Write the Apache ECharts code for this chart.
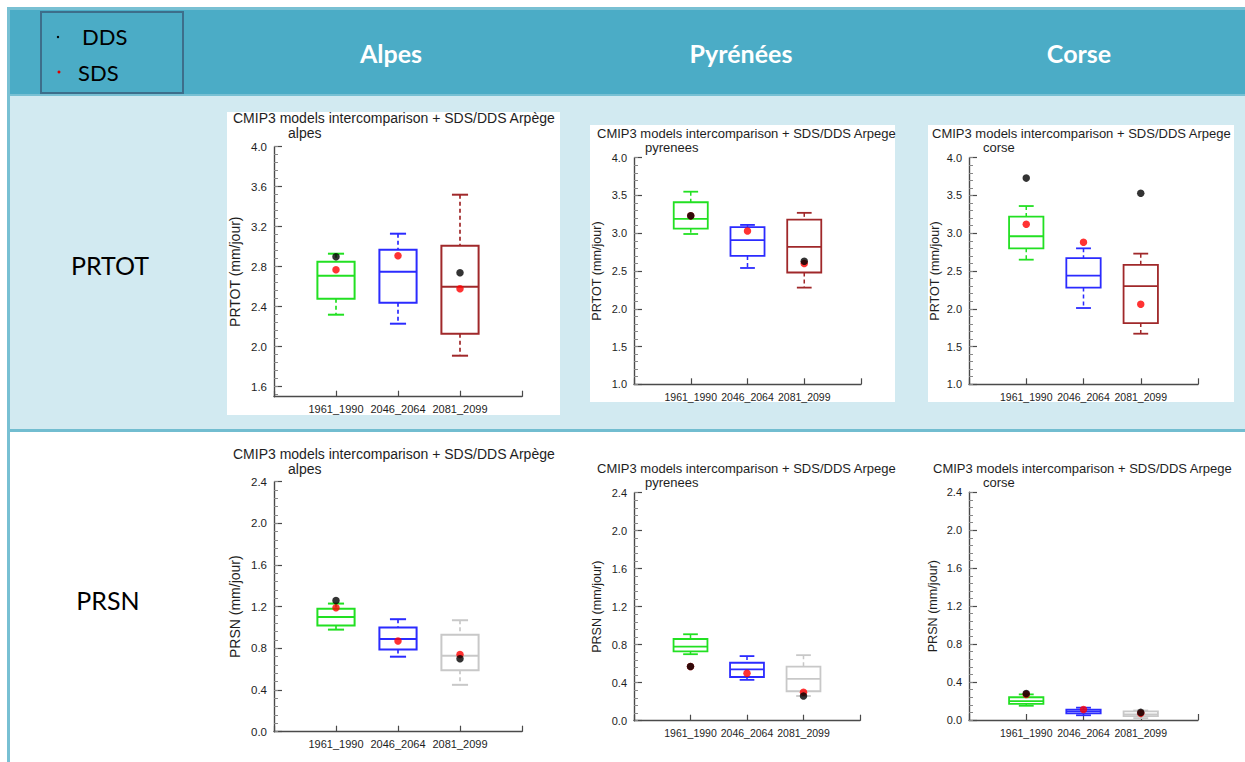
<!DOCTYPE html>
<html><head><meta charset="utf-8">
<script src="https://cdn.jsdelivr.net/npm/echarts@6/dist/echarts.min.js"></script>
<style>html,body{margin:0;padding:0;background:#fff;}#c{width:1245px;height:762px;}</style>
</head><body><div id="c"></div>
<script>
// ---------- data ----------
const periods = ['1961_1990', '2046_2064', '2081_2099'];
const regionHeaders = ['Alpes', 'Pyrénées', 'Corse'];
const regionTags = ['alpes', 'pyrenees', 'corse'];
const variables = ['PRTOT', 'PRSN'];
const legendNames = ['DDS', 'SDS'];
const plotTitles = ['CMIP3 models intercomparison + SDS/DDS Arpège',
                    'CMIP3 models intercomparison + SDS/DDS Arpege',
                    'CMIP3 models intercomparison + SDS/DDS Arpege'];
const unitLabel = ' (mm/jour)';

// box stats per period: [min, q1, median, q3, max]
const prtotAlpesBox = [[2.32, 2.48, 2.71, 2.85, 2.93], [2.23, 2.44, 2.75, 2.97, 3.13], [1.91, 2.13, 2.60, 3.01, 3.52]];
const prtotAlpesDDS = [2.90, null, 2.74];
const prtotAlpesSDS = [2.77, 2.91, 2.58];
const prtotPyrBox = [[2.99, 3.06, 3.19, 3.41, 3.55], [2.54, 2.70, 2.91, 3.08, 3.11], [2.28, 2.48, 2.82, 3.18, 3.27]];
const prtotPyrDDS = [3.23, null, 2.63];
const prtotPyrSDS = [3.23, 3.03, 2.60];
const prtotCorBox = [[2.65, 2.80, 2.96, 3.22, 3.36], [2.01, 2.28, 2.44, 2.67, 2.80], [1.67, 1.81, 2.30, 2.58, 2.73]];
const prtotCorDDS = [3.73, null, 3.53];
const prtotCorSDS = [3.12, 2.88, 2.06];

const prsnAlpesBox = [[0.98, 1.02, 1.10, 1.18, 1.23], [0.72, 0.79, 0.89, 1.00, 1.08], [0.45, 0.59, 0.73, 0.93, 1.07]];
const prsnAlpesDDS = [1.26, null, 0.70];
const prsnAlpesSDS = [1.19, 0.87, 0.74];
const prsnPyrBox = [[0.70, 0.73, 0.78, 0.86, 0.91], [0.43, 0.46, 0.54, 0.61, 0.68], [0.26, 0.31, 0.44, 0.57, 0.69]];
const prsnPyrDDS = [0.57, null, 0.26];
const prsnPyrSDS = [0.57, 0.50, 0.30];
const prsnCorBox = [[0.15, 0.17, 0.20, 0.24, 0.27], [0.05, 0.07, 0.09, 0.11, 0.13], [0.02, 0.04, 0.06, 0.09, 0.10]];
const prsnCorDDS = [0.28, null, 0.08];
const prsnCorSDS = [0.27, 0.11, 0.07];

// tick labels
const prtotAlpesTicks = [1.6, 2.0, 2.4, 2.8, 3.2, 3.6, 4.0];
const prtotTicks = [1.0, 1.5, 2.0, 2.5, 3.0, 3.5, 4.0];
const prsnTicks = [0.0, 0.4, 0.8, 1.2, 1.6, 2.0, 2.4];

// ---------- styling ----------
const prtotColors = ['#22E022', '#2B2BFF', '#A0282A'];
const prsnColors = ['#22E022', '#2B2BFF', '#C8C8C8'];
const FONT = '"Liberation Sans", Arial, sans-serif';
const HFONT = 'Lato, "Open Sans", sans-serif';

const panels = [
  {box: prtotAlpesBox, dds: prtotAlpesDDS, sds: prtotAlpesSDS, ticks: prtotAlpesTicks, min: 1.5, max: 4.0, minor: 0.08,
   colors: prtotColors, v: 0, r: 0, grid: {left: 274, top: 146.7, width: 248, height: 250},
   tx: 233, ty: 118, tsize: 14, sx: 288, sy: 133, nameGap: 32, nameSize: 14, tickSize: 11, lw: 2},
  {box: prtotPyrBox, dds: prtotPyrDDS, sds: prtotPyrSDS, ticks: prtotTicks, min: 1.0, max: 4.0, minor: 0.1,
   colors: prtotColors, v: 0, r: 1, grid: {left: 634, top: 157.7, width: 227, height: 226.6},
   tx: 597, ty: 133, tsize: 13, sx: 645, sy: 147, nameGap: 31, nameSize: 12.6, tickSize: 10.5, lw: 1.8},
  {box: prtotCorBox, dds: prtotCorDDS, sds: prtotCorSDS, ticks: prtotTicks, min: 1.0, max: 4.0, minor: 0.1,
   colors: prtotColors, v: 0, r: 2, grid: {left: 969, top: 157.7, width: 229, height: 226.6},
   tx: 932, ty: 133, tsize: 13, sx: 983, sy: 147, nameGap: 28, nameSize: 12.6, tickSize: 10.5, lw: 1.8},
  {box: prsnAlpesBox, dds: prsnAlpesDDS, sds: prsnAlpesSDS, ticks: prsnTicks, min: 0, max: 2.4, minor: 0.08,
   colors: prsnColors, v: 1, r: 0, grid: {left: 274, top: 481.7, width: 248, height: 250},
   tx: 233, ty: 454, tsize: 14, sx: 288, sy: 469, nameGap: 32, nameSize: 14, tickSize: 11, lw: 2},
  {box: prsnPyrBox, dds: prsnPyrDDS, sds: prsnPyrSDS, ticks: prsnTicks, min: 0, max: 2.4, minor: 0.08,
   colors: prsnColors, v: 1, r: 1, grid: {left: 634, top: 492.7, width: 226, height: 228},
   tx: 597, ty: 468, tsize: 13, sx: 645, sy: 482, nameGap: 31, nameSize: 12.6, tickSize: 10.5, lw: 1.8},
  {box: prsnCorBox, dds: prsnCorDDS, sds: prsnCorSDS, ticks: prsnTicks, min: 0, max: 2.4, minor: 0.08,
   colors: prsnColors, v: 1, r: 2, grid: {left: 969, top: 492.3, width: 229, height: 227.7},
   tx: 933, ty: 468, tsize: 13, sx: 983, sy: 482, nameGap: 30, nameSize: 12.6, tickSize: 10.5, lw: 1.8}
];

function minorTicks(min, max, step) {
  const out = [];
  const start = Math.ceil(min / step - 1e-6);
  for (let k = start; k * step <= max + 1e-9; k++) out.push(+(k * step).toFixed(4));
  return out;
}

const grids = [], xAxes = [], yAxes = [], series = [];
const axisColor = '#4a4a4a';
const textColor = '#1e1e1e';

panels.forEach((p, i) => {
  grids.push(Object.assign({outerBoundsMode: 'none', containLabel: false}, p.grid));
  xAxes.push({
    gridIndex: i, type: 'category', data: [''].concat(periods, ['']), boundaryGap: false,
    axisLine: {show: true, lineStyle: {color: axisColor, width: 1.4}},
    axisTick: {show: true, inside: true, length: 6, interval: 0, lineStyle: {color: axisColor, width: 1.2}},
    axisLabel: {interval: 0, fontSize: p.tickSize, color: textColor, fontFamily: FONT, margin: 7},
    splitLine: {show: false}
  });
  yAxes.push({
    gridIndex: i, type: 'value', min: p.min, max: p.max, position: 'left',
    axisLine: {show: true, lineStyle: {color: axisColor, width: 1.4}},
    axisTick: {show: true, inside: true, length: 8, customValues: p.ticks, lineStyle: {color: axisColor, width: 1.2}},
    axisLabel: {customValues: p.ticks, formatter: v => Number(v).toFixed(1), fontSize: p.tickSize + 0.5,
                color: textColor, fontFamily: FONT, margin: 7},
    splitLine: {show: false},
    name: variables[p.v] + unitLabel, nameLocation: 'middle', nameGap: p.nameGap, nameRotate: 90,
    nameTextStyle: {fontSize: p.nameSize, color: textColor, fontFamily: FONT}
  });
  yAxes.push({
    gridIndex: i, type: 'value', min: p.min, max: p.max, position: 'left',
    axisLine: {show: false},
    axisTick: {show: true, inside: true, length: 4, customValues: minorTicks(p.min, p.max, p.minor),
               lineStyle: {color: '#888', width: 1}},
    axisLabel: {show: false}, splitLine: {show: false}
  });
  const yIdx = 2 * i;
  const boxData = p.box.map((b, k) => [k + 1].concat(b));
  series.push({
    type: 'custom', xAxisIndex: i, yAxisIndex: yIdx, data: boxData, z: 3, clip: false,
    encode: {x: 0, y: [1, 2, 3, 4, 5]},
    renderItem: function (params, api) {
      const x = api.value(0);
      const lo = api.coord([x, api.value(1)]);
      const q1 = api.coord([x, api.value(2)]);
      const md = api.coord([x, api.value(3)]);
      const q3 = api.coord([x, api.value(4)]);
      const hi = api.coord([x, api.value(5)]);
      const step = api.coord([x + 1, api.value(3)])[0] - md[0];
      const bw = step * 0.6, cw = step * 0.26;
      const c = p.colors[params.dataIndex];
      const cx = md[0];
      const solid = {stroke: c, lineWidth: p.lw, fill: 'none'};
      const dashed = {stroke: c, lineWidth: p.lw * 0.85, lineDash: [4, 3]};
      return {type: 'group', children: [
        {type: 'line', shape: {x1: cx, y1: hi[1], x2: cx, y2: q3[1]}, style: dashed},
        {type: 'line', shape: {x1: cx, y1: q1[1], x2: cx, y2: lo[1]}, style: dashed},
        {type: 'line', shape: {x1: cx - cw / 2, y1: hi[1], x2: cx + cw / 2, y2: hi[1]}, style: solid},
        {type: 'line', shape: {x1: cx - cw / 2, y1: lo[1], x2: cx + cw / 2, y2: lo[1]}, style: solid},
        {type: 'rect', shape: {x: cx - bw / 2, y: q3[1], width: bw, height: q1[1] - q3[1]}, style: solid},
        {type: 'line', shape: {x1: cx - bw / 2, y1: md[1], x2: cx + bw / 2, y2: md[1]}, style: solid}
      ]};
    }
  });
  series.push({
    type: 'scatter', name: legendNames[1], xAxisIndex: i, yAxisIndex: yIdx, z: 4, symbolSize: 7.5,
    itemStyle: {color: '#FF0000'}, data: p.sds.map((v, k) => [k + 1, v == null ? '-' : v])
  });
  series.push({
    type: 'scatter', name: legendNames[0], xAxisIndex: i, yAxisIndex: yIdx, z: 5, symbolSize: 7.5,
    itemStyle: {color: '#000000'}, data: p.dds.map((v, k) => [k + 1, v == null ? '-' : v])
  });
});

// ---------- table graphics ----------
const G = [];
const border = '#78C0D3';
G.push({type: 'rect', z: -10, shape: {x: 7, y: 7, width: 1238, height: 3}, style: {fill: border}});
G.push({type: 'rect', z: -10, shape: {x: 7, y: 7, width: 3, height: 755}, style: {fill: border}});
G.push({type: 'rect', z: -10, shape: {x: 10, y: 10, width: 1235, height: 84}, style: {fill: '#4BACC6'}});
G.push({type: 'rect', z: -10, shape: {x: 10, y: 94, width: 1235, height: 2}, style: {fill: border}});
G.push({type: 'rect', z: -10, shape: {x: 10, y: 96, width: 1235, height: 333}, style: {fill: '#D2EAF1'}});
G.push({type: 'rect', z: -10, shape: {x: 10, y: 429, width: 1235, height: 3}, style: {fill: '#72BDD0'}});
// white plot panels in first row
G.push({type: 'rect', z: -9, shape: {x: 227, y: 112, width: 333, height: 303}, style: {fill: '#fff'}});
G.push({type: 'rect', z: -9, shape: {x: 590, y: 125, width: 305, height: 277}, style: {fill: '#fff'}});
G.push({type: 'rect', z: -9, shape: {x: 928, y: 125, width: 306, height: 277}, style: {fill: '#fff'}});
// legend box
G.push({type: 'rect', z: -8, shape: {x: 41, y: 12, width: 142, height: 81}, style: {fill: 'none', stroke: '#3D6E8B', lineWidth: 2}});
G.push({type: 'circle', z: 5, shape: {cx: 58, cy: 37, r: 1.2}, style: {fill: '#000'}});
G.push({type: 'circle', z: 5, shape: {cx: 59, cy: 72, r: 1.5}, style: {fill: '#E00000'}});
G.push({type: 'text', z: 5, style: {x: 82, y: 36, text: legendNames[0], fontSize: 22, fontFamily: HFONT, fill: '#000', verticalAlign: 'middle'}});
G.push({type: 'text', z: 5, style: {x: 78, y: 72, text: legendNames[1], fontSize: 22, fontFamily: HFONT, fill: '#000', verticalAlign: 'middle'}});
// headers
const headerX = [391, 741, 1079];
regionHeaders.forEach((h, k) => G.push({type: 'text', z: 5, style: {x: headerX[k], y: 53, text: h, fontSize: 25, fontWeight: 'bold', fontFamily: HFONT, fill: '#fff', align: 'center', verticalAlign: 'middle'}}));
// row labels
G.push({type: 'text', z: 5, style: {x: 110, y: 265, text: variables[0], fontSize: 25, fontFamily: HFONT, fill: '#000', align: 'center', verticalAlign: 'middle'}});
G.push({type: 'text', z: 5, style: {x: 108, y: 600, text: variables[1], fontSize: 25, fontFamily: HFONT, fill: '#000', align: 'center', verticalAlign: 'middle'}});
// plot titles
panels.forEach(p => {
  G.push({type: 'text', z: 5, style: {x: p.tx, y: p.ty, text: plotTitles[p.r], fontSize: p.tsize, fontFamily: FONT, fill: textColor, verticalAlign: 'middle'}});
  G.push({type: 'text', z: 5, style: {x: p.sx, y: p.sy, text: regionTags[p.r], fontSize: p.tsize, fontFamily: FONT, fill: textColor, verticalAlign: 'middle'}});
});

const chart = echarts.init(document.getElementById('c'), null, {renderer: 'svg'});
chart.setOption({
  animation: false,
  backgroundColor: '#fff',
  graphic: {elements: G},
  grid: grids, xAxis: xAxes, yAxis: yAxes, series: series
});
</script></body></html>
